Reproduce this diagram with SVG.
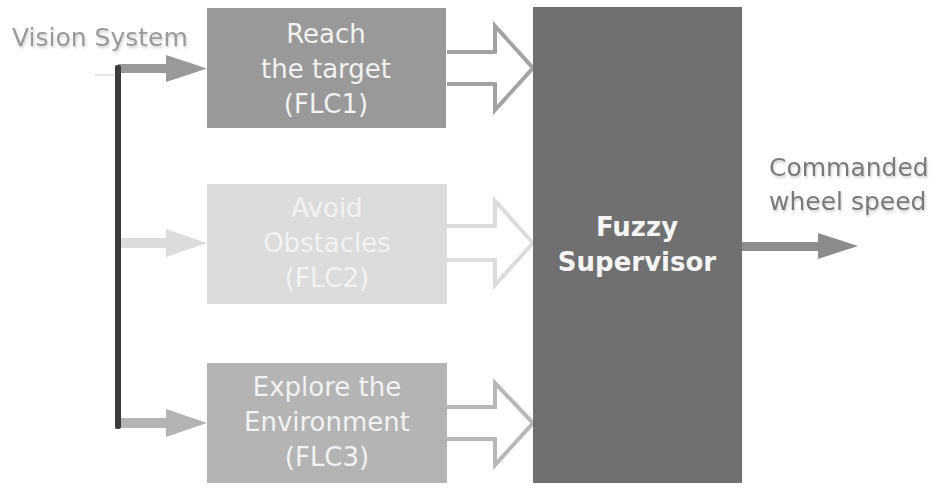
<svg xmlns="http://www.w3.org/2000/svg" width="937" height="490" viewBox="0 0 937 490">
<defs>
<filter id="sh" x="-10%" y="-20%" width="120%" height="150%">
<feDropShadow dx="1" dy="2" stdDeviation="1" flood-color="#000" flood-opacity="0.18"/>
</filter>
</defs>
<style>
.lbl{font-family:"DejaVu Sans","Liberation Sans",sans-serif;font-size:26px;text-anchor:middle;fill:#f2f2f2}
.sup{font-family:"DejaVu Sans","Liberation Sans",sans-serif;font-size:26px;font-weight:bold;text-anchor:middle;fill:#f5f5f5}
.ext{font-family:"DejaVu Sans","Liberation Sans",sans-serif;font-size:25px;filter:url(#sh)}
.hollow{fill:#fff;stroke-width:4;stroke-linejoin:miter}
</style>
<rect width="937" height="490" fill="#fff"/>
<g id="connectors">
<line x1="95" y1="75" x2="118" y2="75" stroke="#cfcfcf" stroke-width="1"/>
<g id="in1" fill="#999">
<rect x="118" y="64" width="50" height="9"/>
<polygon points="166,55 207,68.5 166,82"/>
</g>
<g id="in2" fill="#dcdcdc">
<rect x="118" y="238" width="50" height="10"/>
<polygon points="166,229 207,243 166,257"/>
</g>
<g id="in3" fill="#b4b4b4">
<rect x="118" y="418" width="50" height="10"/>
<polygon points="166,409 207,423 166,437"/>
</g>
<rect id="bus" x="115" y="65" width="6" height="364" rx="2" fill="#3c3c3c"/>
<polyline class="hollow" stroke="#a3a3a3" points="447,52 495,52 495,26 533,68 495,110 495,84 447,84"/>
<polyline class="hollow" stroke="#dcdcdc" points="447,226 495,226 495,201 533,243 495,285 495,260 447,260"/>
<polyline class="hollow" stroke="#b8b8b8" points="447,407 495,407 495,383 533,423 495,465 495,439 447,439"/>
<g id="out" fill="#8c8c8c">
<rect x="742" y="242" width="78" height="9"/>
<polygon points="818,233 858,246 818,259"/>
</g>
</g>
<g id="vision">
<text class="ext" x="12" y="46" fill="#9a9a9a" font-size="26.5">Vision System</text>
</g>
<g id="flc1">
<rect x="207" y="8" width="239" height="120" fill="#999"/>
<text class="lbl" x="326" y="43">Reach</text>
<text class="lbl" x="326" y="78">the target</text>
<text class="lbl" x="326" y="113">(FLC1)</text>
</g>
<g id="flc2">
<rect x="207" y="184" width="240" height="120" fill="#dcdcdc"/>
<text class="lbl" x="327" y="217" fill="#f6f6f6">Avoid</text>
<text class="lbl" x="327" y="252" fill="#f6f6f6">Obstacles</text>
<text class="lbl" x="327" y="287" fill="#f6f6f6">(FLC2)</text>
</g>
<g id="flc3">
<rect x="207" y="363" width="240" height="120" fill="#b4b4b4"/>
<text class="lbl" x="327" y="396">Explore the</text>
<text class="lbl" x="327" y="431">Environment</text>
<text class="lbl" x="327" y="466">(FLC3)</text>
</g>
<g id="supervisor">
<rect x="533" y="7" width="209" height="476" fill="#707070"/>
<text class="sup" x="637" y="236">Fuzzy</text>
<text class="sup" x="637" y="271">Supervisor</text>
</g>
<g id="output">
<text class="ext" x="769" y="176" fill="#7a7a7a">Commanded</text>
<text class="ext" x="769" y="210" fill="#7a7a7a">wheel speed</text>
</g>
</svg>
